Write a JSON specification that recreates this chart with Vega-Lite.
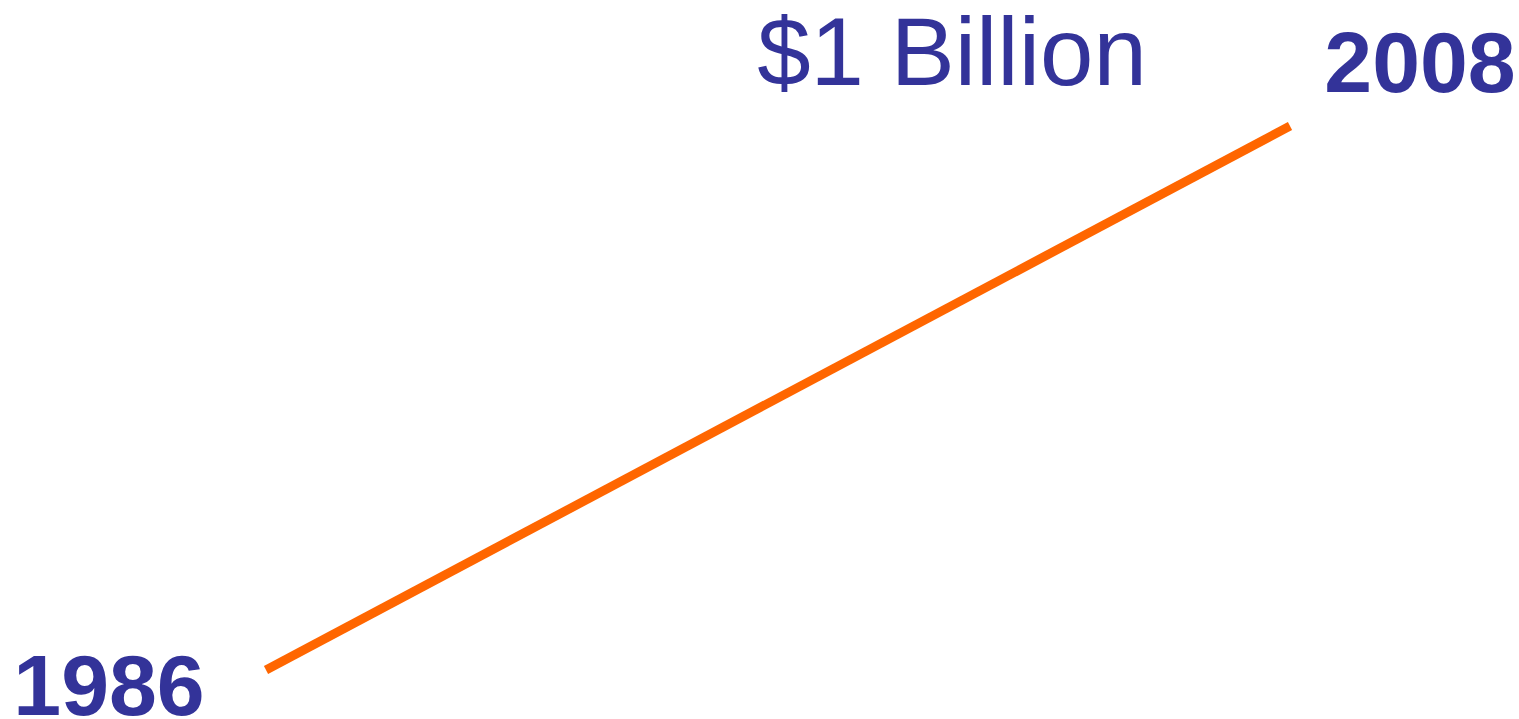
{
  "$schema": "https://vega.github.io/schema/vega-lite/v6.json",
  "width": 1519,
  "height": 719,
  "autosize": {"type": "none"},
  "padding": 0,
  "background": "white",
  "config": {"view": {"stroke": null}},
  "data": {
    "values": [
      {"year": 1986, "value": 0, "label": "1986", "amount": ""},
      {"year": 2008, "value": 1, "label": "2008", "amount": "$1 Billion"}
    ]
  },
  "encoding": {
    "x": {"field": "year", "type": "quantitative", "axis": null,
          "scale": {"domain": [1980.285, 2012.92], "nice": false, "zero": false}},
    "y": {"field": "value", "type": "quantitative", "axis": null,
          "scale": {"domain": [-0.0901, 1.2316], "nice": false, "zero": false}}
  },
  "layer": [
    {"mark": {"type": "line", "color": "#FF6600", "strokeWidth": 9, "strokeCap": "butt"}},
    {
      "transform": [{"filter": "datum.year == 1986"}],
      "mark": {"type": "text", "font": "Liberation Sans", "fontWeight": "bold", "fontSize": 86,
               "color": "#333399", "align": "center", "baseline": "alphabetic", "dx": -157, "dy": 45},
      "encoding": {"text": {"field": "label"}}
    },
    {
      "transform": [{"filter": "datum.year == 2008"}],
      "mark": {"type": "text", "font": "Liberation Sans", "fontWeight": "bold", "fontSize": 86,
               "color": "#333399", "align": "center", "baseline": "alphabetic", "dx": 130, "dy": -34},
      "encoding": {"text": {"field": "label"}}
    },
    {
      "transform": [{"filter": "datum.year == 2008"}],
      "mark": {"type": "text", "font": "Liberation Sans", "fontWeight": "normal", "fontSize": 96,
               "color": "#333399", "align": "center", "baseline": "alphabetic", "dx": -338, "dy": -41},
      "encoding": {"text": {"field": "amount"}}
    }
  ]
}
